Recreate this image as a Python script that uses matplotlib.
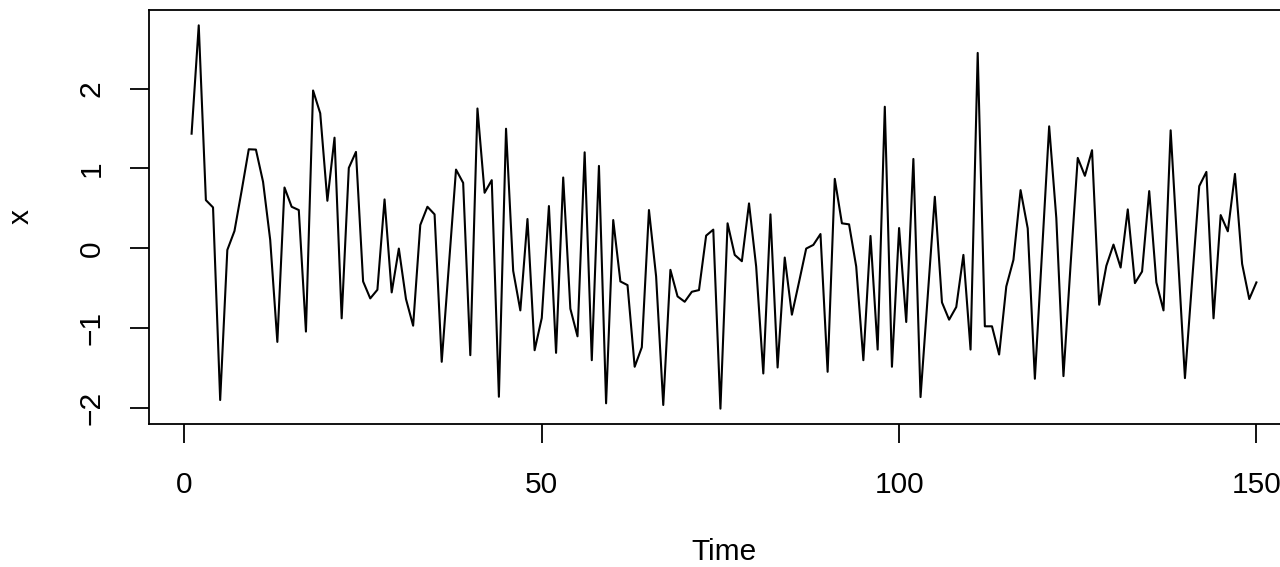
import matplotlib
matplotlib.use("Agg")
import matplotlib.pyplot as plt
import numpy as np

plt.rcParams['font.family'] = ['Liberation Sans', 'DejaVu Sans']

# series values, t = 1..150
x_vals = [
    1.435, 2.79, 0.604, 0.513, -1.896, -0.019, 0.218, 0.72, 1.24, 1.236,
    0.833, 0.106, -1.169, 0.762, 0.521, 0.48, -1.04, 1.975, 1.69, 0.596,
    1.385, -0.874, 1.007, 1.207, -0.413, -0.625, -0.517, 0.613, -0.55, -0.002,
    -0.633, -0.966, 0.293, 0.521, 0.426, -1.418, -0.21, 0.986, 0.82, -1.335,
    1.75, 0.696, 0.854, -1.855, 1.497, -0.28, -0.775, 0.368, -1.273, -0.87,
    0.53, -1.306, 0.887, -0.754, -1.099, 1.202, -1.398, 1.032, -1.937, 0.355,
    -0.413, -0.459, -1.48, -1.236, 0.48, -0.35, -1.958, -0.268, -0.6, -0.667,
    -0.542, -0.521, 0.16, 0.235, -2.004, 0.314, -0.081, -0.16, 0.563, -0.226,
    -1.564, 0.426, -1.489, -0.114, -0.829, -0.42, -0.002, 0.044, 0.18, -1.543,
    0.87, 0.314, 0.301, -0.226, -1.398, 0.156, -1.265, 1.772, -1.48, 0.255,
    -0.92, 1.119, -1.859, -0.6, 0.646, -0.675, -0.891, -0.733, -0.081, -1.265,
    2.445, -0.974, -0.974, -1.327, -0.476, -0.143, 0.729, 0.251, -1.63, -0.05,
    1.527, 0.38, -1.597, -0.2, 1.132, 0.908, 1.228, -0.704, -0.218, 0.048,
    -0.239, 0.488, -0.434, -0.289, 0.717, -0.425, -0.775, 1.477, -0.06, -1.622,
    -0.41, 0.779, 0.957, -0.874, 0.417, 0.214, 0.932, -0.193, -0.633, -0.425,
]
time = np.arange(1, len(x_vals) + 1)
x_ticks = [0, 50, 100, 150]
y_ticks = [-2, -1, 0, 1, 2]

fig = plt.figure(figsize=(12.8, 5.67), dpi=100)
# the original plot region runs past the right edge of the image
ax = fig.add_axes([149 / 1280, 1 - 424 / 567, 1150 / 1280, 414 / 567])
ax.plot(time, x_vals, color='black', linewidth=1.5)

# R style 4% padding
def padded(lo, hi):
    d = (hi - lo) * 0.04
    return lo - d, hi + d

ax.set_xlim(*padded(time.min(), time.max()))
ax.set_ylim(*padded(min(x_vals), max(x_vals)))

ax.set_xticks(x_ticks)
ax.set_yticks(y_ticks)
ax.tick_params(axis='both', direction='out', length=13.5, width=1.3,
               labelsize=21.5, color='black')
ax.tick_params(axis='x', pad=20)
ax.tick_params(axis='y', pad=17.5, labelrotation=90)
for lab in ax.get_yticklabels():
    lab.set_va('center')

for s in ax.spines.values():
    s.set_linewidth(1.3)

ax.set_xlabel('Time', fontsize=21.5, labelpad=28.5)
ax.set_ylabel('x', fontsize=21.5, labelpad=31)

fig.savefig('out.png', dpi=100)
